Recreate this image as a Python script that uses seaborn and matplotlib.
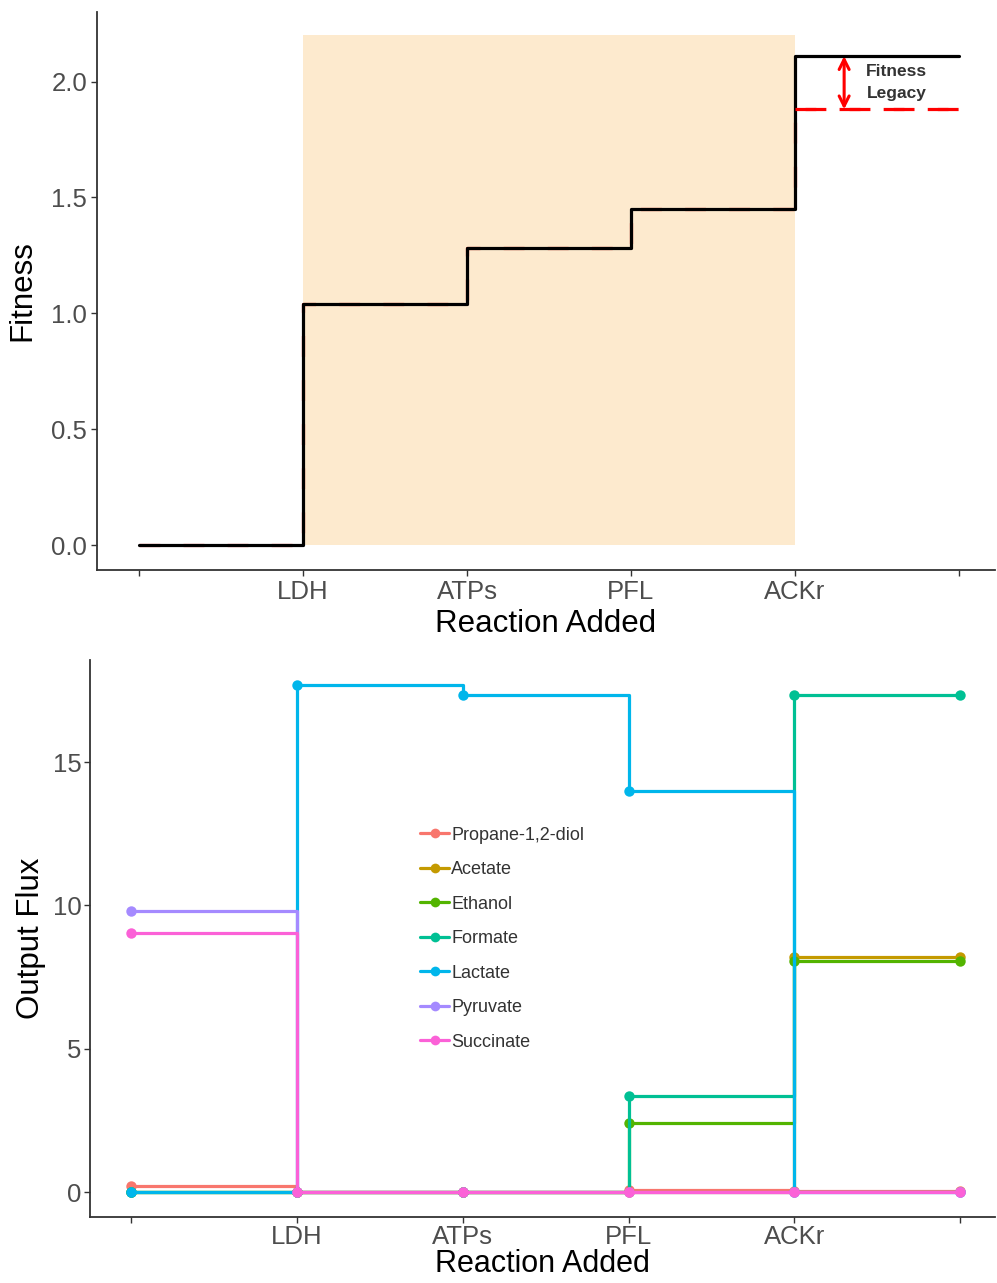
import numpy as np
import pandas as pd
import matplotlib
matplotlib.use("Agg")
import matplotlib.pyplot as plt
from matplotlib.patches import Rectangle
from matplotlib.lines import Line2D
import seaborn as sns

# Reactions added in sequence (first and last positions carry no label)
steps = [0, 1, 2, 3, 4, 5]
step_labels = ["", "LDH", "ATPs", "PFL", "ACKr", ""]

# Fitness after each reaction, and the fitness legacy trajectory
fitness = [0.0, 1.04, 1.28, 1.45, 2.11, 2.11]
fitness_legacy = [0.0, 1.04, 1.28, 1.45, 1.88, 1.88]

# Shaded reaction window
shade_start, shade_end, shade_top = 1, 4, 2.2

# Output fluxes per metabolite
metabolites = ["Propane-1,2-diol", "Acetate", "Ethanol", "Formate",
               "Lactate", "Pyruvate", "Succinate"]
propanediol = [0.2, 0.0, 0.0, 0.07, 0.05, 0.05]
acetate = [0.0, 0.0, 0.0, 0.0, 8.2, 8.2]
ethanol = [0.0, 0.0, 0.0, 2.4, 8.05, 8.05]
formate = [0.0, 0.0, 0.0, 3.35, 17.35, 17.35]
lactate = [0.0, 17.7, 17.35, 14.0, 0.0, 0.0]
pyruvate = [9.8, 0.0, 0.0, 0.0, 0.0, 0.0]
succinate = [9.05, 0.0, 0.0, 0.0, 0.0, 0.0]
flux_series = [propanediol, acetate, ethanol, formate, lactate, pyruvate, succinate]

colors = ["#F8766D", "#C49A00", "#53B400", "#00C094", "#00B6EB", "#A58AFF", "#FB61D7"]

sns.set_theme(style="white")
plt.rcParams["font.family"] = ["Liberation Sans", "DejaVu Sans"]

fig = plt.figure(figsize=(9.97, 12.83), dpi=100)
ax1 = fig.add_axes([0.0973, 0.5557, 0.9007, 0.4349])
ax2 = fig.add_axes([0.0903, 0.0514, 0.9077, 0.4341])

axis_col = "#333333"
tick_col = "#4D4D4D"
dash_style = (0, (6.5, 7.3))


def style_axis(ax, pad=3):
    for side in ("top", "right"):
        ax.spines[side].set_visible(False)
    for side in ("left", "bottom"):
        ax.spines[side].set_color(axis_col)
        ax.spines[side].set_linewidth(1.3)
    ax.tick_params(axis="both", which="both", length=4, width=1.0, color=axis_col,
                   labelcolor=tick_col, labelsize=18.5, pad=pad, bottom=True, left=True)
    ax.set_xticks(steps)
    ax.set_xticklabels(step_labels)
    ax.grid(False)


# ---- Fitness panel ----
fit_df = pd.DataFrame({"step": steps, "fitness": fitness, "legacy": fitness_legacy})
ax1.add_patch(Rectangle((shade_start, 0), shade_end - shade_start, shade_top,
                        facecolor="#FDEACE", edgecolor="none", zorder=0))
sns.lineplot(data=fit_df, x="step", y="legacy", ax=ax1, color="#FF0000",
             linewidth=2.3, drawstyle="steps-post", linestyle=dash_style, zorder=2)
sns.lineplot(data=fit_df, x="step", y="fitness", ax=ax1, color="black",
             linewidth=2.3, drawstyle="steps-post", zorder=3)
# Final legacy segment kept above the black line
sns.lineplot(x=steps[4:], y=fitness_legacy[4:], ax=ax1, color="#FF0000",
             linewidth=2.3, linestyle=dash_style, zorder=4)

ax1.annotate("", xy=(4.3, fitness[4]), xytext=(4.3, fitness_legacy[4]),
             arrowprops=dict(arrowstyle="<->", color="#FF0000", lw=2.2,
                             mutation_scale=18, shrinkA=0, shrinkB=0), zorder=5)
ax1.text(4.62, (fitness[4] + fitness_legacy[4]) / 2, "Fitness\nLegacy",
         ha="center", va="center", fontsize=12.5, fontweight="bold",
         color="#333333", linespacing=1.6, zorder=5)

style_axis(ax1)
ax1.set_xlim(-0.256, 5.22)
ax1.set_ylim(-0.108, 2.30)
ax1.set_yticks([0.0, 0.5, 1.0, 1.5, 2.0])
ax1.set_yticklabels(["0.0", "0.5", "1.0", "1.5", "2.0"])
ax1.set_xlabel("Reaction Added", fontsize=22.5, color="black", labelpad=4)
ax1.set_ylabel("Fitness", fontsize=22.5, color="black", labelpad=10)

# ---- Output flux panel ----
rows = []
for name, vals in zip(metabolites, flux_series):
    for s, v in zip(steps, vals):
        rows.append({"step": s, "flux": v, "metabolite": name})
flux_df = pd.DataFrame(rows)

sns.lineplot(data=flux_df, x="step", y="flux", hue="metabolite",
             hue_order=metabolites, palette=colors, ax=ax2,
             linewidth=2.3, drawstyle="steps-post", marker="o",
             markersize=7.5, markeredgewidth=0, estimator=None, legend=False)

style_axis(ax2, pad=2)
ax2.set_xlim(-0.247, 5.21)
ax2.set_ylim(-0.87, 18.56)
ax2.set_yticks([0, 5, 10, 15])
ax2.set_xlabel("Reaction Added", fontsize=22, color="black", labelpad=0)
ax2.set_ylabel("Output Flux", fontsize=22.5, color="black", labelpad=5)

handles = [Line2D([0], [0], color=c, lw=2.3, marker="o", markersize=7,
                  markeredgewidth=0) for c in colors]
leg = ax2.legend(handles, metabolites, loc="center left",
                 bbox_to_anchor=(0.355, 0.5), frameon=False, fontsize=13,
                 handlelength=1.6, handletextpad=0.1, labelspacing=0.97,
                 borderpad=0)
for t in leg.get_texts():
    t.set_color("#333333")

fig.savefig("out.png", dpi=100, facecolor="white")
